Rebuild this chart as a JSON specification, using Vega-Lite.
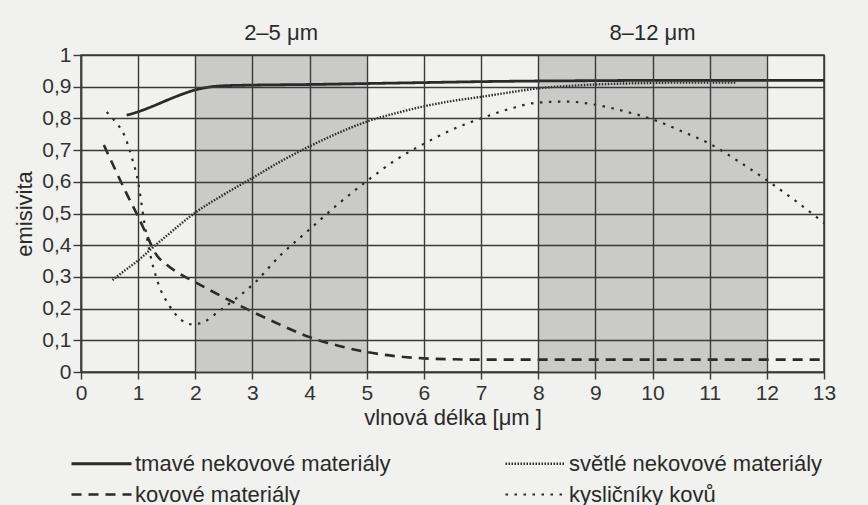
{
  "$schema": "https://vega.github.io/schema/vega-lite/v6.json",
  "width": 743,
  "height": 317,
  "autosize": "none",
  "padding": {"left": 81, "top": 55, "right": 44, "bottom": 133},
  "background": "#f1f1ef",
  "config": {
    "font": "Liberation Sans",
    "view": {"stroke": "#3a3a3a", "strokeWidth": 1.5},
    "axis": {
      "zindex": 1,
      "grid": true,
      "gridColor": "#3a3a3a",
      "gridWidth": 1.4,
      "gridOpacity": 1,
      "domainColor": "#3a3a3a",
      "domainWidth": 1.5,
      "tickColor": "#3a3a3a",
      "tickWidth": 1.4,
      "labelFontSize": 21,
      "labelColor": "#333333",
      "labelFlush": false,
      "labelOverlap": false,
      "labelBound": false,
      "titleFontSize": 22,
      "titleFontWeight": "normal",
      "titleColor": "#2a2a2a"
    },
    "axisX": {"tickSize": 7, "labelPadding": 3, "titlePadding": 4, "labelAngle": 0},
    "axisY": {"tickSize": 8, "labelPadding": 2, "titlePadding": 5}
  },
  "layer": [
    {
      "data": {
        "values": [
          {"from": 2, "to": 5, "label": "2–5 μm"},
          {"from": 8, "to": 12, "label": "8–12 μm"}
        ]
      },
      "layer": [
        {
          "mark": {"type": "rect", "fill": "#cacac8"},
          "encoding": {
            "x": {
              "field": "from",
              "type": "quantitative",
              "scale": {"domain": [0, 13], "nice": false},
              "axis": {
                "values": [0, 1, 2, 3, 4, 5, 6, 7, 8, 9, 10, 11, 12, 13],
                "format": "d",
                "tickCount": 30,
                "zindex": 1,
                "title": "vlnová délka [μm ]"
              }
            },
            "x2": {"field": "to"},
            "y": {
              "datum": 0,
              "type": "quantitative",
              "scale": {"domain": [0, 1], "nice": false},
              "axis": {
                "values": [0, 0.1, 0.2, 0.3, 0.4, 0.5, 0.6, 0.7, 0.8, 0.9, 1],
                "tickCount": 20,
                "zindex": 1,
                "labelExpr": "datum.value == 0 ? '0' : datum.value == 1 ? '1' : replace(format(datum.value, '.1f'), '.', ',')",
                "title": "emisivita"
              }
            },
            "y2": {"datum": 1}
          }
        },
        {
          "transform": [{"calculate": "(datum.from + datum.to) / 2", "as": "mid"}],
          "mark": {"type": "text", "fontSize": 22, "color": "#2a2a2a", "baseline": "middle", "align": "center"},
          "encoding": {
            "x": {
              "field": "mid",
              "type": "quantitative",
              "scale": {"domain": [0, 13], "nice": false},
              "axis": {
                "values": [0, 1, 2, 3, 4, 5, 6, 7, 8, 9, 10, 11, 12, 13],
                "format": "d",
                "tickCount": 30,
                "zindex": 1,
                "title": "vlnová délka [μm ]"
              }
            },
            "y": {
              "datum": 1.07,
              "type": "quantitative",
              "scale": {"domain": [0, 1], "nice": false},
              "axis": {
                "values": [0, 0.1, 0.2, 0.3, 0.4, 0.5, 0.6, 0.7, 0.8, 0.9, 1],
                "tickCount": 20,
                "zindex": 1,
                "labelExpr": "datum.value == 0 ? '0' : datum.value == 1 ? '1' : replace(format(datum.value, '.1f'), '.', ',')",
                "title": "emisivita"
              }
            },
            "text": {"field": "label"}
          }
        }
      ]
    },
    {
      "data": {
        "values": [
          {"series": "tmavé nekovové materiály", "x": 0.8, "y": 0.81},
          {"series": "tmavé nekovové materiály", "x": 1.0, "y": 0.821},
          {"series": "tmavé nekovové materiály", "x": 1.25, "y": 0.838},
          {"series": "tmavé nekovové materiály", "x": 1.5, "y": 0.857},
          {"series": "tmavé nekovové materiály", "x": 1.75, "y": 0.875},
          {"series": "tmavé nekovové materiály", "x": 2.0, "y": 0.89},
          {"series": "tmavé nekovové materiály", "x": 2.25, "y": 0.899},
          {"series": "tmavé nekovové materiály", "x": 2.5, "y": 0.903},
          {"series": "tmavé nekovové materiály", "x": 3, "y": 0.905},
          {"series": "tmavé nekovové materiály", "x": 4, "y": 0.907},
          {"series": "tmavé nekovové materiály", "x": 5, "y": 0.91},
          {"series": "tmavé nekovové materiály", "x": 6, "y": 0.913},
          {"series": "tmavé nekovové materiály", "x": 7, "y": 0.916},
          {"series": "tmavé nekovové materiály", "x": 8, "y": 0.918},
          {"series": "tmavé nekovové materiály", "x": 9, "y": 0.919},
          {"series": "tmavé nekovové materiály", "x": 10, "y": 0.92},
          {"series": "tmavé nekovové materiály", "x": 11, "y": 0.92},
          {"series": "tmavé nekovové materiály", "x": 12, "y": 0.92},
          {"series": "tmavé nekovové materiály", "x": 13, "y": 0.92},

          {"series": "světlé nekovové materiály", "x": 0.55, "y": 0.29},
          {"series": "světlé nekovové materiály", "x": 0.75, "y": 0.318},
          {"series": "světlé nekovové materiály", "x": 1.0, "y": 0.352},
          {"series": "světlé nekovové materiály", "x": 1.25, "y": 0.392},
          {"series": "světlé nekovové materiály", "x": 1.5, "y": 0.43},
          {"series": "světlé nekovové materiály", "x": 2.0, "y": 0.503},
          {"series": "světlé nekovové materiály", "x": 2.5, "y": 0.56},
          {"series": "světlé nekovové materiály", "x": 3.0, "y": 0.612},
          {"series": "světlé nekovové materiály", "x": 3.5, "y": 0.665},
          {"series": "světlé nekovové materiály", "x": 4.0, "y": 0.712},
          {"series": "světlé nekovové materiály", "x": 4.5, "y": 0.754},
          {"series": "světlé nekovové materiály", "x": 5.0, "y": 0.79},
          {"series": "světlé nekovové materiály", "x": 5.5, "y": 0.816},
          {"series": "světlé nekovové materiály", "x": 6.0, "y": 0.838},
          {"series": "světlé nekovové materiály", "x": 6.5, "y": 0.855},
          {"series": "světlé nekovové materiály", "x": 7.0, "y": 0.868},
          {"series": "světlé nekovové materiály", "x": 7.5, "y": 0.882},
          {"series": "světlé nekovové materiály", "x": 8.0, "y": 0.895},
          {"series": "světlé nekovové materiály", "x": 8.5, "y": 0.902},
          {"series": "světlé nekovové materiály", "x": 9.0, "y": 0.907},
          {"series": "světlé nekovové materiály", "x": 9.5, "y": 0.91},
          {"series": "světlé nekovové materiály", "x": 10.0, "y": 0.912},
          {"series": "světlé nekovové materiály", "x": 10.5, "y": 0.913},
          {"series": "světlé nekovové materiály", "x": 11.0, "y": 0.913},
          {"series": "světlé nekovové materiály", "x": 11.45, "y": 0.913},

          {"series": "kovové materiály", "x": 0.4, "y": 0.716},
          {"series": "kovové materiály", "x": 0.6, "y": 0.638},
          {"series": "kovové materiály", "x": 0.8, "y": 0.562},
          {"series": "kovové materiály", "x": 1.0, "y": 0.49},
          {"series": "kovové materiály", "x": 1.15, "y": 0.432},
          {"series": "kovové materiály", "x": 1.3, "y": 0.375},
          {"series": "kovové materiály", "x": 1.5, "y": 0.338},
          {"series": "kovové materiály", "x": 1.7, "y": 0.313},
          {"series": "kovové materiály", "x": 2.0, "y": 0.283},
          {"series": "kovové materiály", "x": 2.5, "y": 0.235},
          {"series": "kovové materiály", "x": 3.0, "y": 0.19},
          {"series": "kovové materiály", "x": 3.5, "y": 0.148},
          {"series": "kovové materiály", "x": 4.0, "y": 0.11},
          {"series": "kovové materiály", "x": 4.5, "y": 0.083},
          {"series": "kovové materiály", "x": 5.0, "y": 0.063},
          {"series": "kovové materiály", "x": 5.5, "y": 0.05},
          {"series": "kovové materiály", "x": 6.0, "y": 0.043},
          {"series": "kovové materiály", "x": 6.5, "y": 0.04},
          {"series": "kovové materiály", "x": 7.0, "y": 0.039},
          {"series": "kovové materiály", "x": 13.0, "y": 0.039},

          {"series": "kysličníky kovů", "x": 0.45, "y": 0.82},
          {"series": "kysličníky kovů", "x": 0.6, "y": 0.79},
          {"series": "kysličníky kovů", "x": 0.75, "y": 0.75},
          {"series": "kysličníky kovů", "x": 0.9, "y": 0.67},
          {"series": "kysličníky kovů", "x": 1.0, "y": 0.6},
          {"series": "kysličníky kovů", "x": 1.1, "y": 0.48},
          {"series": "kysličníky kovů", "x": 1.2, "y": 0.38},
          {"series": "kysličníky kovů", "x": 1.35, "y": 0.28},
          {"series": "kysličníky kovů", "x": 1.55, "y": 0.208},
          {"series": "kysličníky kovů", "x": 1.75, "y": 0.165},
          {"series": "kysličníky kovů", "x": 1.95, "y": 0.15},
          {"series": "kysličníky kovů", "x": 2.15, "y": 0.158},
          {"series": "kysličníky kovů", "x": 2.4, "y": 0.19},
          {"series": "kysličníky kovů", "x": 2.7, "y": 0.23},
          {"series": "kysličníky kovů", "x": 3.0, "y": 0.275},
          {"series": "kysličníky kovů", "x": 3.5, "y": 0.37},
          {"series": "kysličníky kovů", "x": 4.0, "y": 0.45},
          {"series": "kysličníky kovů", "x": 4.5, "y": 0.53},
          {"series": "kysličníky kovů", "x": 5.0, "y": 0.602},
          {"series": "kysličníky kovů", "x": 5.5, "y": 0.668},
          {"series": "kysličníky kovů", "x": 6.0, "y": 0.72},
          {"series": "kysličníky kovů", "x": 6.5, "y": 0.765},
          {"series": "kysličníky kovů", "x": 7.0, "y": 0.8},
          {"series": "kysličníky kovů", "x": 7.5, "y": 0.83},
          {"series": "kysličníky kovů", "x": 8.0, "y": 0.85},
          {"series": "kysličníky kovů", "x": 8.5, "y": 0.853},
          {"series": "kysličníky kovů", "x": 9.0, "y": 0.843},
          {"series": "kysličníky kovů", "x": 9.5, "y": 0.823},
          {"series": "kysličníky kovů", "x": 10.0, "y": 0.797},
          {"series": "kysličníky kovů", "x": 10.5, "y": 0.76},
          {"series": "kysličníky kovů", "x": 11.0, "y": 0.72},
          {"series": "kysličníky kovů", "x": 11.5, "y": 0.665},
          {"series": "kysličníky kovů", "x": 12.0, "y": 0.605},
          {"series": "kysličníky kovů", "x": 12.5, "y": 0.54},
          {"series": "kysličníky kovů", "x": 13.0, "y": 0.47}
        ]
      },
      "mark": {"type": "line", "strokeCap": "butt", "interpolate": "monotone", "stroke": "#2a2a2a"},
      "encoding": {
        "x": {
          "field": "x",
          "type": "quantitative",
          "scale": {"domain": [0, 13], "nice": false},
          "axis": {
            "values": [0, 1, 2, 3, 4, 5, 6, 7, 8, 9, 10, 11, 12, 13],
            "format": "d",
            "tickCount": 30,
            "zindex": 1,
            "title": "vlnová délka [μm ]"
          }
        },
        "y": {
          "field": "y",
          "type": "quantitative",
          "scale": {"domain": [0, 1], "nice": false},
          "axis": {
            "values": [0, 0.1, 0.2, 0.3, 0.4, 0.5, 0.6, 0.7, 0.8, 0.9, 1],
            "tickCount": 20,
            "zindex": 1,
            "labelExpr": "datum.value == 0 ? '0' : datum.value == 1 ? '1' : replace(format(datum.value, '.1f'), '.', ',')",
            "title": "emisivita"
          }
        },
        "strokeDash": {
          "field": "series",
          "type": "nominal",
          "scale": {
            "domain": ["tmavé nekovové materiály", "kovové materiály", "světlé nekovové materiály", "kysličníky kovů"],
            "range": [[1, 0], [10, 7], [1.5, 1.5], [2.5, 6.5]]
          },
          "legend": {
            "title": null,
            "orient": "none",
            "legendX": 29,
            "legendY": 397,
            "columns": 2,
            "columnPadding": 109,
            "rowPadding": 8,
            "symbolType": "M-5,0H1",
            "symbolSize": 400,
            "symbolStrokeColor": "#2a2a2a",
            "symbolStrokeWidth": 2.4,
            "symbolFillColor": "transparent",
            "labelFontSize": 22,
            "labelColor": "#2a2a2a",
            "labelLimit": 400,
            "labelOffset": 2
          }
        },
        "strokeWidth": {
          "field": "series",
          "type": "nominal",
          "scale": {
            "domain": ["tmavé nekovové materiály", "kovové materiály", "světlé nekovové materiály", "kysličníky kovů"],
            "range": [2.8, 2.2, 2.2, 2.8]
          },
          "legend": null
        }
      }
    }
  ]
}
